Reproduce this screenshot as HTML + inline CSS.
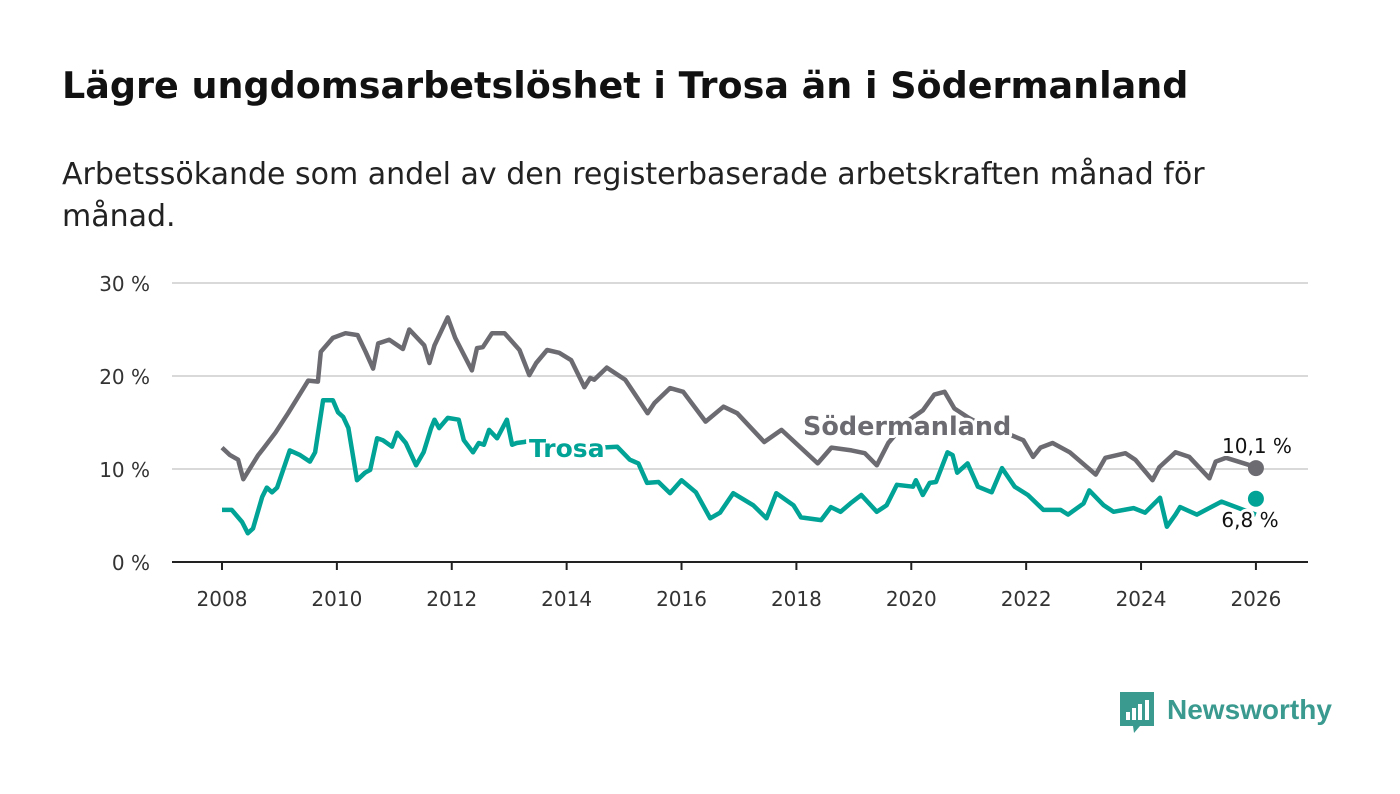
<!DOCTYPE html>
<html><head><meta charset="utf-8"><style>
body{margin:0;background:#fff;width:1400px;height:794px;overflow:hidden;font-family:"Liberation Sans","DejaVu Sans",sans-serif}
h1{position:absolute;left:62px;top:64px;margin:0;font-family:"DejaVu Sans",sans-serif;font-size:36.5px;font-weight:bold;color:#111;white-space:nowrap}
p{position:absolute;left:62px;top:154px;margin:0;font-family:"DejaVu Sans",sans-serif;font-size:30px;line-height:42px;color:#222;width:1300px;white-space:nowrap}
svg{position:absolute;left:0;top:0}
</style></head><body>
<h1>Lägre ungdomsarbetslöshet i Trosa än i Södermanland</h1>
<p>Arbetssökande som andel av den registerbaserade arbetskraften månad för<br>månad.</p>
<svg id="chart" width="1400" height="794"></svg>
<script>
const yTicks=[0,10,20,30];
const xTicks=[2008,2010,2012,2014,2016,2018,2020,2022,2024,2026];
const sodT=[2008,2008.14,2008.28,2008.37,2008.63,2008.72,2008.93,2009.15,2009.5,2009.67,2009.72,2009.93,2010.15,2010.36,2010.5,2010.63,2010.72,2010.91,2011.15,2011.26,2011.52,2011.61,2011.7,2011.93,2012.06,2012.35,2012.44,2012.54,2012.7,2012.92,2013.18,2013.35,2013.47,2013.66,2013.87,2014.08,2014.31,2014.41,2014.48,2014.7,2015.02,2015.41,2015.53,2015.8,2016.03,2016.42,2016.73,2016.97,2017.44,2017.74,2018.37,2018.61,2018.96,2019.19,2019.4,2019.6,2019.9,2020.2,2020.4,2020.58,2020.75,2021.0,2021.3,2021.6,2021.95,2022.12,2022.25,2022.46,2022.76,2023.21,2023.38,2023.73,2023.9,2024.2,2024.32,2024.6,2024.84,2025.19,2025.3,2025.48,2025.95,2026];
const sodV=[12.3,11.5,11,8.9,11.5,12.2,13.9,16,19.5,19.4,22.6,24.1,24.6,24.4,22.6,20.8,23.5,23.9,22.9,25,23.3,21.4,23.3,26.3,24.1,20.6,23,23.1,24.6,24.6,22.8,20.1,21.4,22.8,22.5,21.7,18.8,19.8,19.6,20.9,19.6,16,17.1,18.7,18.3,15.1,16.7,16,12.9,14.2,10.6,12.3,12,11.7,10.4,12.8,15,16.3,18,18.3,16.5,15.5,14.5,14,13.1,11.3,12.3,12.8,11.8,9.4,11.2,11.7,11,8.8,10.2,11.8,11.3,9,10.8,11.2,10.3,10.1];
const troT=[2008,2008.17,2008.35,2008.45,2008.54,2008.7,2008.78,2008.87,2008.96,2009.18,2009.36,2009.53,2009.62,2009.76,2009.93,2010.02,2010.11,2010.2,2010.35,2010.49,2010.58,2010.7,2010.8,2010.96,2011.05,2011.2,2011.38,2011.51,2011.64,2011.7,2011.78,2011.93,2012.12,2012.21,2012.37,2012.47,2012.56,2012.65,2012.79,2012.96,2013.05,2013.13,2013.26,2013.5,2013.8,2014.1,2014.4,2014.6,2014.88,2015.1,2015.25,2015.4,2015.6,2015.8,2016.0,2016.25,2016.5,2016.67,2016.9,2017.25,2017.48,2017.65,2017.95,2018.08,2018.43,2018.6,2018.77,2018.94,2019.13,2019.4,2019.57,2019.75,2020.03,2020.08,2020.2,2020.32,2020.43,2020.63,2020.72,2020.8,2020.98,2021.16,2021.4,2021.58,2021.8,2022.03,2022.3,2022.6,2022.73,2023.0,2023.1,2023.35,2023.52,2023.87,2024.07,2024.33,2024.45,2024.6,2024.68,2024.97,2025.4,2026];
const troV=[5.6,5.6,4.3,3.1,3.6,7,8,7.5,8,12,11.5,10.8,11.8,17.4,17.4,16.1,15.6,14.4,8.8,9.6,9.9,13.3,13.1,12.4,13.9,12.8,10.4,11.8,14.4,15.3,14.4,15.5,15.3,13.1,11.8,12.8,12.6,14.2,13.3,15.3,12.6,12.8,12.9,13.2,12.5,11.5,11.6,12.3,12.4,11,10.6,8.5,8.6,7.4,8.8,7.5,4.7,5.3,7.4,6.1,4.7,7.4,6.1,4.8,4.5,5.9,5.4,6.3,7.2,5.4,6.1,8.3,8.1,8.8,7.2,8.5,8.6,11.8,11.5,9.6,10.6,8.1,7.5,10.1,8.1,7.2,5.6,5.6,5.1,6.3,7.7,6.1,5.4,5.8,5.3,6.9,3.8,5.1,5.9,5.1,6.5,5.1,6.8];
const NS='http://www.w3.org/2000/svg',svg=document.getElementById('chart');
const X=y=>222+(y-2008)*57.44, Y=v=>562-v*9.3;
function el(t,a,p){const e=document.createElementNS(NS,t);for(const k in a)e.setAttribute(k,a[k]);(p||svg).appendChild(e);return e;}
yTicks.forEach(v=>{
 const g=el('line',{x1:172,x2:1308,y1:Y(v),y2:Y(v),stroke:v?'#d9d9d9':'#222','stroke-width':2});
 
 
 const t=el('text',{x:150,y:Y(v)+8,'text-anchor':'end','font-size':20,'font-family':'DejaVu Sans, sans-serif',fill:'#333'});t.textContent=v+' %';
 
 
});
xTicks.forEach(yr=>{
 const l=el('line',{x1:X(yr),x2:X(yr),y1:562,y2:570,stroke:'#222','stroke-width':2});
 
 
 const t=el('text',{x:X(yr),y:606,'text-anchor':'middle','font-size':20,'font-family':'DejaVu Sans, sans-serif',fill:'#333'});t.textContent=yr;
 
 
});
function line(T,V,c,n){
 const p=el('path',{d:T.map((t,i)=>(i?'L':'M')+X(t).toFixed(1)+','+Y(V[i]).toFixed(1)).join(''),fill:'none',stroke:c,'stroke-width':4.5,'stroke-linejoin':'round'});
 
 
 const d=el('circle',{cx:X(T[T.length-1]),cy:Y(V[V.length-1]),r:8,fill:c});
 
 
}
line(sodT,sodV,'#6c6b72','sodermanland');
line(troT,troV,'#00a396','trosa');
function lab(x,y,s,c,sz,w,anchor,n){
 const t=el('text',{x:x,y:y,'font-size':sz,'font-weight':w,'font-family':'DejaVu Sans, sans-serif',fill:c,stroke:'#fff','stroke-width':6,'paint-order':'stroke','text-anchor':anchor,'stroke-linejoin':'round'});t.textContent=s;
 
 
}
lab(529,457,'Trosa','#00a396',25,'bold','start','trosa-label');
lab(803,435,'Södermanland','#6c6b72',25.5,'bold','start','sodermanland-label');
lab(1257,453,'10,1 %','#111',20,'normal','middle','sodermanland-end-value');
lab(1250,527,'6,8 %','#111',20,'normal','middle','trosa-end-value');
const g=el('g',{});


el('path',{d:'M1120,692h34v34h-14l-6,7l-1,-7h-13z',fill:'#3a9a8f'},g);
[[1126,712,4],[1132,708,4],[1138,704,4],[1145,700,4]].forEach(b=>el('rect',{x:b[0],y:b[1],width:b[2],height:720-b[1],fill:'#fff'},g));
const lt=el('text',{x:1167,y:719,'font-size':28,'font-weight':'bold',fill:'#3a9a8f'},g);lt.textContent='Newsworthy';
</script>
</body></html>
